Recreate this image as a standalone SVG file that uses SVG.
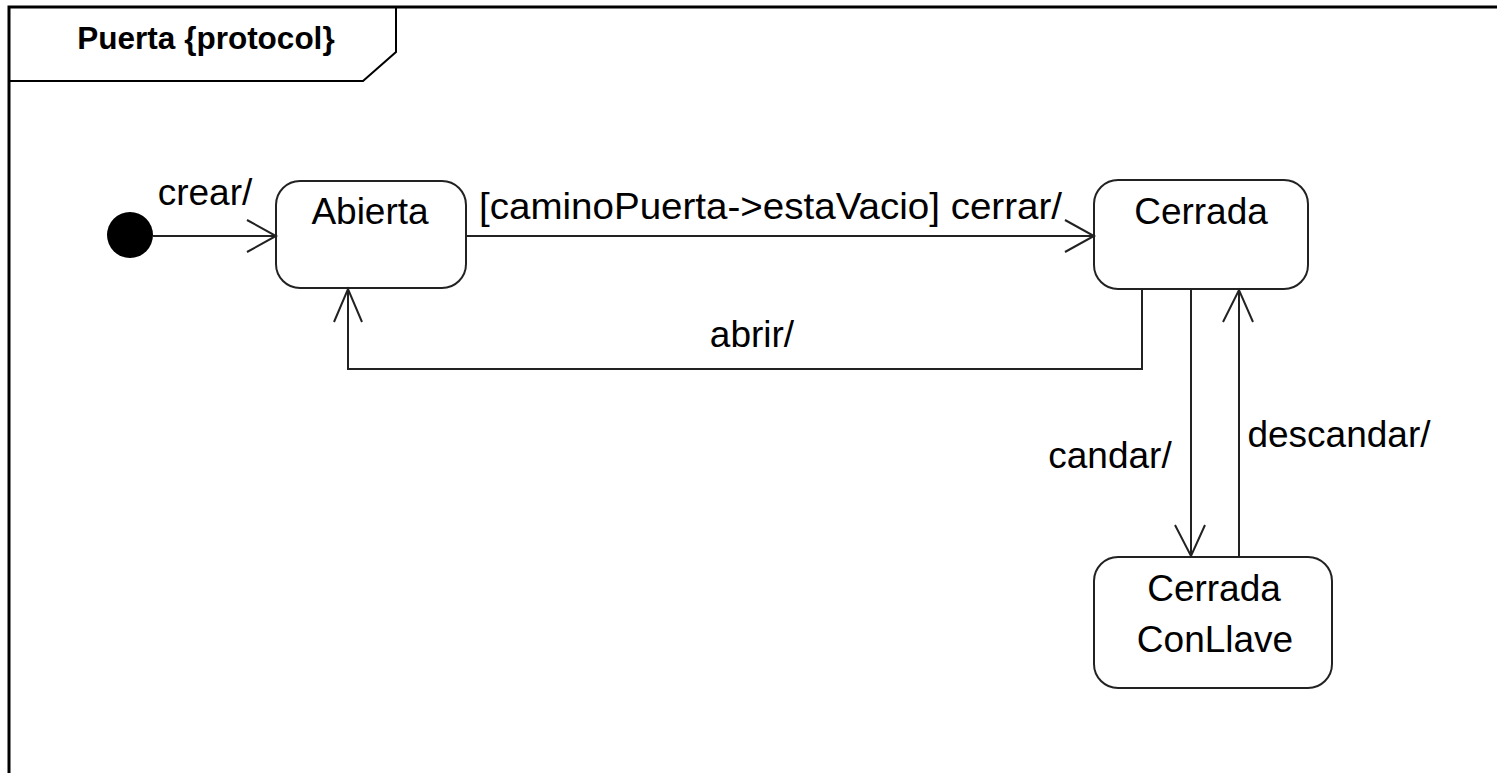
<svg xmlns="http://www.w3.org/2000/svg" width="1497" height="773" viewBox="0 0 1497 773">
<style>
.frame{fill:none;stroke:#000;stroke-width:3}
.tab{fill:none;stroke:#000;stroke-width:2}
.state{fill:#fff;stroke:#222;stroke-width:2}
.edge{fill:none;stroke:#222;stroke-width:2}
.head{fill:none;stroke:#222;stroke-width:2;stroke-linejoin:miter}
.t{font-family:"Liberation Sans",Arial,sans-serif;font-size:37px;fill:#000}
.title{font-family:"Liberation Sans",Arial,sans-serif;font-size:31.5px;font-weight:bold;fill:#000}
</style>
<rect width="1497" height="773" fill="#fff"/>
<g id="frame">
<path class="frame" d="M9,773 V7 H1497"/>
<path class="tab" d="M9,81 H363 L396,52 V7"/>
<text class="title" x="206" y="49" text-anchor="middle">Puerta {protocol}</text>
</g>
<g id="initial">
<circle cx="130" cy="235" r="23" fill="#000"/>
</g>
<g id="Abierta">
<rect class="state" x="276" y="181" width="190" height="107" rx="24"/>
<text class="t" x="370" y="224" text-anchor="middle">Abierta</text>
</g>
<g id="Cerrada">
<rect class="state" x="1094" y="180" width="214" height="109" rx="24"/>
<text class="t" x="1201" y="224" text-anchor="middle">Cerrada</text>
</g>
<g id="CerradaConLlave">
<rect class="state" x="1094" y="557" width="238" height="131" rx="24"/>
<text class="t" x="1214" y="601" text-anchor="middle">Cerrada</text>
<text class="t" x="1215" y="652" text-anchor="middle">ConLlave</text>
</g>
<g id="connectors">
<path class="edge" d="M153,236 H276"/>
<path class="head" d="M247,220 L276,236 L247,252"/>
<text class="t" x="205" y="205" text-anchor="middle">crear/</text>
<path class="edge" d="M466,236 H1094"/>
<path class="head" d="M1065,220 L1094,236 L1065,252"/>
<text class="t" x="479" y="219" textLength="583" lengthAdjust="spacingAndGlyphs">[caminoPuerta-&gt;estaVacio] cerrar/</text>
<path class="edge" d="M1142,289 V369 H348 V288"/>
<path class="head" d="M334,322 L348,289 L362,322"/>
<text class="t" x="752" y="347" text-anchor="middle">abrir/</text>
<path class="edge" d="M1191,289 V556"/>
<path class="head" d="M1175,525 L1191,556 L1205,525"/>
<text class="t" x="1110" y="468" text-anchor="middle">candar/</text>
<path class="edge" d="M1239,557 V290"/>
<path class="head" d="M1223,322 L1239,290 L1253,322"/>
<text class="t" x="1339" y="447" text-anchor="middle">descandar/</text>
</g>
</svg>
